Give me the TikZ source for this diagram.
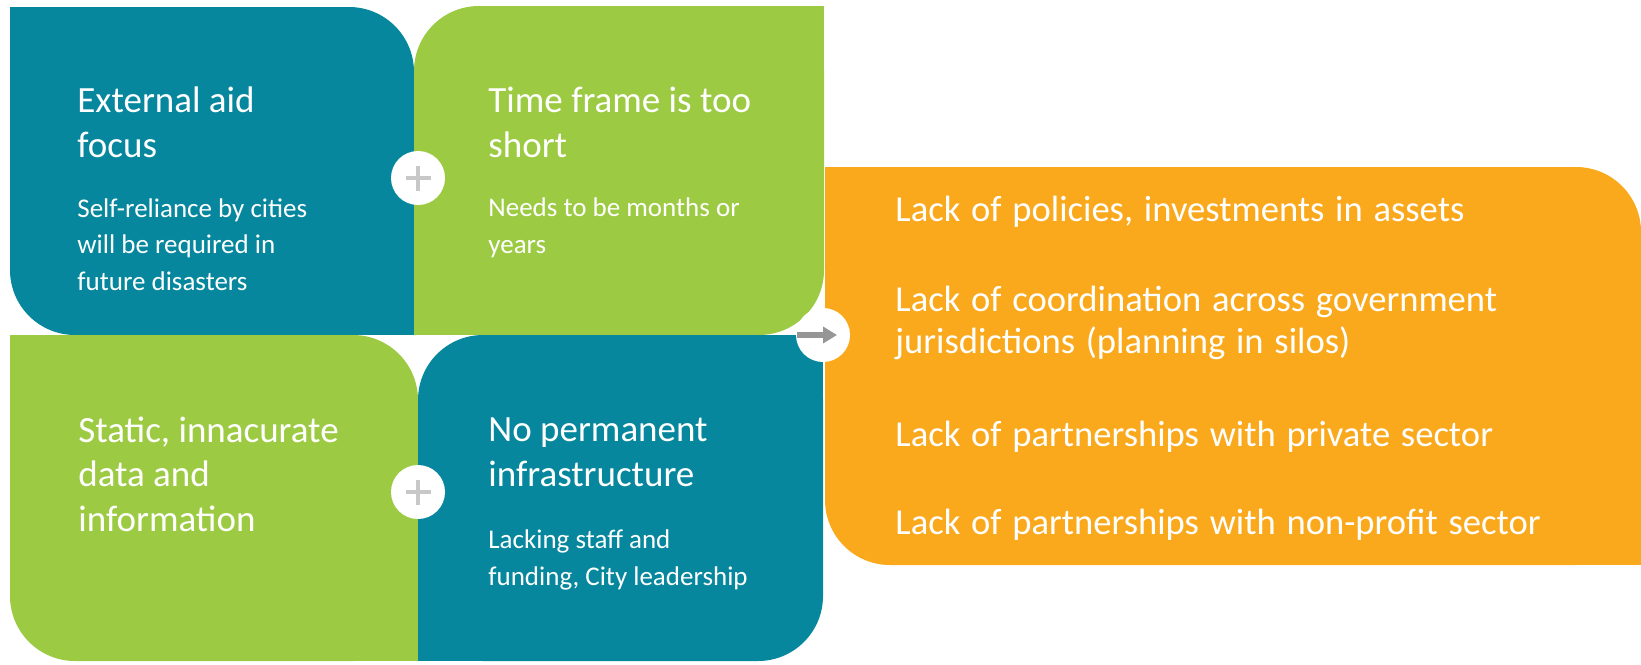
\documentclass[tikz,border=0pt]{standalone}
\usepackage{fontspec}
\setmainfont{Carlito}
\newfontfamily\widefont{Carlito}[WordSpace=1.3]
\usetikzlibrary{arrows.meta}
\definecolor{cTeal}{RGB}{6,135,157}
\definecolor{cLeaf}{RGB}{156,203,67}
\definecolor{cAmber}{RGB}{250,169,29}
\definecolor{cGrey}{RGB}{150,150,150}
\definecolor{cPlus}{RGB}{200,200,200}

\begin{document}
\begin{tikzpicture}[x=0.5pt,y=-0.5pt,
   hd/.style={anchor=base west,inner sep=0,align=left,text=white,font=\fontsize{18.5}{22.25}\selectfont},
   sb/.style={anchor=base west,inner sep=0,align=left,text=white,font=\fontsize{13.5}{18.25}\selectfont},
   ln/.style={anchor=base west,inner sep=0,align=left,text=white,font=\widefont\fontsize{18.3}{21}\selectfont},
   jn/.style={circle,fill=white,minimum size=27pt,inner sep=0},
   a/.style={-{Triangle[length=7pt,width=8pt]},line width=3pt,cGrey},
   pl/.style={cPlus,line width=2pt}]
  \useasboundingbox (0,0) rectangle (1641,664);
  % four quarter tiles, two opposite corners rounded on each
  \fill[cTeal,rounded corners=32.5pt] (10,7) rectangle (414,335);
  \fill[cTeal] (10,7) rectangle (80,77); \fill[cTeal] (344,265) rectangle (414,335);
  \fill[cLeaf,rounded corners=32.5pt] (414,6) rectangle (824,335);
  \fill[cLeaf] (754,6) rectangle (824,76); \fill[cLeaf] (414,265) rectangle (484,335);
  \fill[cLeaf,rounded corners=32.5pt] (10,335) rectangle (418,661);
  \fill[cLeaf] (10,335) rectangle (80,405); \fill[cLeaf] (348,591) rectangle (418,661);
  \fill[cTeal,rounded corners=32.5pt] (418,335) rectangle (823,661);
  \fill[cTeal] (753,335) rectangle (823,405); \fill[cTeal] (418,591) rectangle (488,661);
  % result panel
  \fill[cAmber,rounded corners=32.5pt] (825,167) rectangle (1641,565);
  \fill[cAmber] (825,167) rectangle (895,237); \fill[cAmber] (1571,495) rectangle (1641,565);

  % text blocks sit on the baseline of their last line
  \node[hd] (t1) at (77,157) {External aid\\focus};
  \node[sb] (s1) at (77,290) {Self-reliance by cities\\will be required in\\future disasters};
  \node[hd] (t2) at (488,157) {Time frame is too\\short};
  \node[sb] (s2) at (488,253) {Needs to be months or\\years};
  \node[hd] (t3) at (78,531) {Static, innacurate\\data and\\information};
  \node[hd] (t4) at (488,486) {No permanent\\infrastructure};
  \node[sb] (s4) at (488,585) {Lacking staff and\\funding, City leadership};

  \node[ln] (r1) at (895,221) {Lack of policies, investments in assets};
  \node[ln] (r2) at (895,353) {Lack of coordination across government\\jurisdictions (planning in silos)};
  \node[ln] (r3) at (895,446) {Lack of partnerships with private sector};
  \node[ln] (r4) at (895,534) {Lack of partnerships with non-profit sector};

  % joints
  \node[jn] (p1) at (418,178) {};
  \draw[pl] ([xshift=-6.25pt]p1.center) -- ([xshift=6.25pt]p1.center);
  \draw[pl] ([yshift=-6.25pt]p1.center) -- ([yshift=6.25pt]p1.center);
  \node[jn] (p2) at (418,492) {};
  \draw[pl] ([xshift=-6.25pt]p2.center) -- ([xshift=6.25pt]p2.center);
  \draw[pl] ([yshift=-6.25pt]p2.center) -- ([yshift=6.25pt]p2.center);
  \node[jn] (go) at (823,335) {};
  \draw[a] ([xshift=-13pt]go.center) -- ([xshift=7pt]go.center);
\end{tikzpicture}
\end{document}
